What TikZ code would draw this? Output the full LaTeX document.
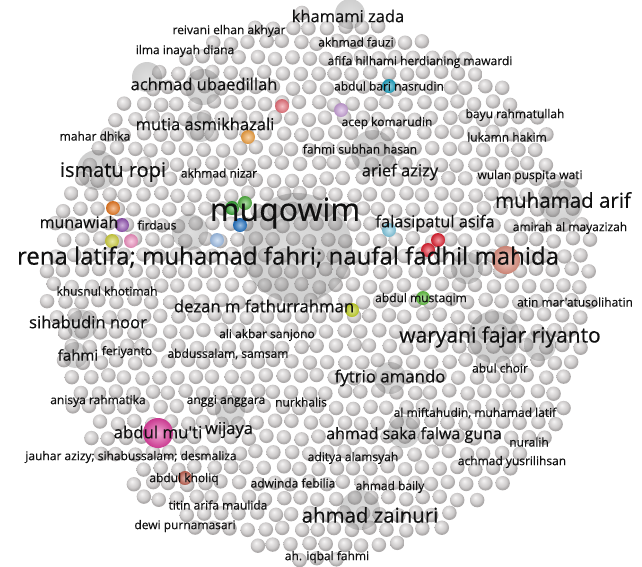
\documentclass[tikz,border=0pt]{standalone}
\usepackage{fontspec}
\setmainfont{Open Sans}
\newfontfamily\lblfont{Open Sans}[BoldFont={Open Sans}, BoldFeatures={FakeBold=0.35}]
\definecolor{sphl}{HTML}{F6F5F5}
\definecolor{sphm}{HTML}{E2E0E0}
\definecolor{sphd}{HTML}{ABA8A8}
\definecolor{lbl}{HTML}{101010}
\definecolor{ca}{HTML}{E8707A}
\definecolor{cb}{HTML}{F0A040}
\definecolor{cc}{HTML}{1AA0C0}
\definecolor{cd}{HTML}{C8A0D8}
\definecolor{ce}{HTML}{E87820}
\definecolor{cf}{HTML}{9050B0}
\definecolor{cg}{HTML}{D0D040}
\definecolor{ch}{HTML}{F090C0}
\definecolor{ci}{HTML}{A0C0E8}
\definecolor{cj}{HTML}{30A030}
\definecolor{ck}{HTML}{50B040}
\definecolor{cl}{HTML}{2070C0}
\definecolor{cm}{HTML}{80C8E0}
\definecolor{cn}{HTML}{E02030}
\definecolor{co}{HTML}{E09080}
\definecolor{cp}{HTML}{60C040}
\definecolor{cq}{HTML}{C0D020}
\definecolor{cr}{HTML}{E040A0}
\definecolor{cs}{HTML}{C06050}
\pgfdeclareradialshading{sph}{\pgfpoint{-7bp}{10bp}}{color(0bp)=(sphl); color(9bp)=(sphm); color(19bp)=(sphm!60!sphd); color(25bp)=(sphd); color(50bp)=(sphd)}
\tikzset{
  lb/.style={text=lbl, inner sep=0pt, font=\lblfont\bfseries\fontsize{12}{14}\selectfont},
  fs/.style={font=\lblfont\bfseries\fontsize{#1}{#1}\selectfont},
  big/.style={inner color=black!40, outer color=black!58, opacity=0.32},
}
\newcommand\csph[4]{\shade[inner color=#1!45!white, outer color=#1!90!black] (#2,#3) circle (#4pt);}
\begin{document}
\begin{tikzpicture}[x=1pt,y=-1pt]
\useasboundingbox (0,0) rectangle (642,566);
\fill[white] (0,0) rectangle (642,566);
\pgfmathsetseed{7}
\foreach \j in {0,...,36}{
 \foreach \i in {0,...,33}{
  \pgfmathsetmacro{\px}{38+\i*17.5+mod(\j,2)*8.75+rand*1.8}
  \pgfmathsetmacro{\py}{12+\j*15.2+rand*1.8}
  \pgfmathsetmacro{\dd}{sqrt(((\px-320)/100)^2+((\py-287)/100)^2)+rand*0.06}
  \ifdim\dd pt<2.72pt \shade[shading=sph] (\px,\py) circle (7.2pt);\fi
 }
}
% large translucent spheres
\shade[big] (297,248) circle (55pt);
\shade[big] (147,77) circle (15pt);
\shade[big] (203,87) circle (18pt);
\shade[big] (200,127) circle (15pt);
\shade[big] (350,14) circle (15pt);
\shade[big] (97,170) circle (20pt);
\shade[big] (373,152) circle (22pt);
\shade[big] (561,203) circle (22pt);
\shade[big] (494,337) circle (26pt);
\shade[big] (540,345) circle (16pt);
\shade[big] (467,268) circle (16pt);
\shade[big] (390,378) circle (16pt);
\shade[big] (404,432) circle (16pt);
\shade[big] (360,510) circle (20pt);
\shade[big] (82,325) circle (15pt);
\shade[big] (75,355) circle (13pt);
\shade[big] (230,410) circle (15pt);
\shade[big] (190,232) circle (18pt);
% coloured spheres
\csph{ca}{282}{106}{7}
\csph{cb}{248}{137}{7}
\csph{cc}{389}{86}{7}
\csph{cd}{341}{110}{7}
\csph{ce}{113}{208}{7}
\csph{cf}{122}{225}{7}
\csph{cg}{112}{241}{7}
\csph{ch}{131}{241}{7}
\csph{ci}{217}{240}{7}
\csph{cj}{232}{208}{7}
\csph{ck}{245}{203}{7}
\csph{cl}{240}{225}{7}
\csph{cm}{389}{230}{7}
\csph{cn}{438}{240}{7}
\csph{cn}{428}{250}{7}
\csph{co}{506}{260}{14}
\csph{cp}{423}{298}{7}
\csph{cq}{352}{310}{7}
\csph{cr}{158}{433}{15}
\csph{cs}{185}{478}{7}
% labels
\node[lb,fs=16.5] (n1) at (348,16) {khamami zada};
\node[lb] (n2) at (229,31) {reivani elhan akhyar};
\node[lb] (n3) at (356,42) {akhmad fauzi};
\node[lb] (n4) at (185,51) {ilma inayah diana};
\node[lb] (n5) at (420,62) {afifa hilhami herdianing mawardi};
\node[lb,fs=16.5] (n6) at (204,84) {achmad ubaedillah};
\node[lb] (n7) at (389,86) {abdul bari nasrudin};
\node[lb] (n8) at (515,115) {bayu rahmatullah};
\node[lb] (n9) at (387,123) {acep komarudin};
\node[lb,fs=16.5] (n10) at (205,124) {mutia asmikhazali};
\node[lb] (n11) at (507,137) {lukamn hakim};
\node[lb] (n12) at (95,136) {mahar dhika};
\node[lb] (n13) at (360,149) {fahmi subhan hasan};
\node[lb,fs=20] (n14) at (113,172) {ismatu ropi};
\node[lb] (n15) at (219,173) {akhmad nizar};
\node[lb,fs=16.5] (n16) at (400,172) {arief azizy};
\node[lb] (n17) at (530,176) {wulan puspita wati};
\node[lb,fs=20.5] (n18) at (563,200) {muhamad arif};
\node[lb,fs=32] (n19) at (285,213) {muqowim};
\node[lb,fs=16.4] (n20) at (435,223) {falasipatul asifa};
\node[lb] (n21) at (570,228) {amirah al mayazizah};
\node[lb,fs=16] (n22) at (79,222) {munawiah};
\node[lb] (n23) at (157,225) {firdaus};
\node[lb,fs=24] (n24) at (288,257) {rena latifa; muhamad fahri; naufal fadhil mahida};
\node[lb] (n25) at (107,291) {khusnul khotimah};
\node[lb] (n26) at (575,302) {atin mar'atusolihatin};
\node[lb] (n27) at (421,299) {abdul mustaqim};
\node[lb,fs=16.7] (n28) at (264,306) {dezan m fathurrahman};
\node[lb,fs=16.6] (n29) at (88,322) {sihabudin noor};
\node[lb] (n30) at (267,335) {ali akbar sanjono};
\node[lb,fs=21] (n31) at (500,337) {waryani fajar riyanto};
\node[lb,fs=15] (n32) at (78,355) {fahmi};
\node[lb] (n33) at (127,352) {feriyanto};
\node[lb] (n34) at (228,354) {abdussalam, samsam};
\node[lb] (n35) at (500,368) {abul choir};
\node[lb,fs=16.8] (n36) at (390,378) {fytrio amando};
\node[lb] (n37) at (98,401) {anisya rahmatika};
\node[lb] (n38) at (226,401) {anggi anggara};
\node[lb] (n39) at (301,402) {nurkhalis};
\node[lb] (n40) at (475,413) {al miftahudin, muhamad latif};
\node[lb,fs=16.8] (n41) at (158,432) {abdul mu'ti};
\node[lb,fs=16.5] (n42) at (229,430) {wijaya};
\node[lb,fs=16] (n43) at (414,435) {ahmad saka falwa guna};
\node[lb] (n44) at (529,442) {nuralih};
\node[lb] (n45) at (131,457) {jauhar azizy; sihabussalam; desmaliza};
\node[lb] (n46) at (353,458) {aditya alamsyah};
\node[lb] (n47) at (512,462) {achmad yusrilihsan};
\node[lb] (n48) at (184,479) {abdul kholiq};
\node[lb] (n49) at (293,483) {adwinda febilia};
\node[lb] (n50) at (390,487) {ahmad baily};
\node[lb] (n51) at (218,505) {titin arifa maulida};
\node[lb,fs=20.4] (n52) at (370,515) {ahmad zainuri};
\node[lb] (n53) at (185,526) {dewi purnamasari};
\node[lb] (n54) at (327,557) {ah. iqbal fahmi};
\end{tikzpicture}
\end{document}
